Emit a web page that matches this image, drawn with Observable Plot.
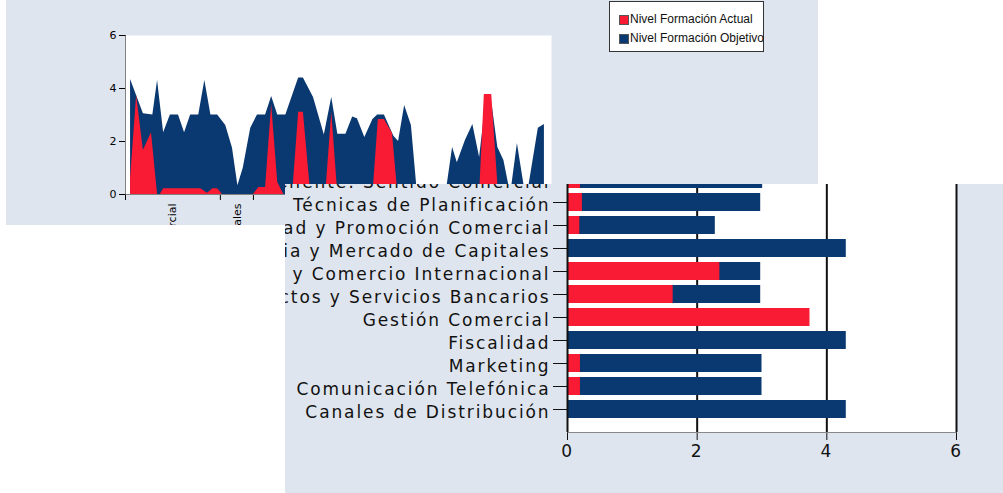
<!DOCTYPE html>
<html><head><meta charset="utf-8">
<script src="https://cdn.jsdelivr.net/npm/d3@7"></script>
<script src="https://cdn.jsdelivr.net/npm/@observablehq/plot@0.6"></script>
<style>
html,body{margin:0;padding:0;background:#fff;width:1003px;height:493px;overflow:hidden;}
#p1{position:absolute;left:6px;top:0;width:812px;height:225px;background:#dfe5ee;overflow:hidden;}
#p2{position:absolute;left:285px;top:184px;width:718px;height:309px;background:#dfe5ee;overflow:hidden;z-index:2;}
#c1{position:absolute;left:0;top:0;}
#c2{position:absolute;left:0;top:-37px;}
#legend{position:absolute;left:603px;top:1px;width:153px;height:49px;border:1px solid #333;background:#fff;font:12px "Liberation Sans",Arial,sans-serif;color:#111;}
#legend .it{position:absolute;left:10px;height:14px;line-height:14px;white-space:nowrap;}
#legend .sw{display:inline-block;width:8px;height:8px;margin-right:2px;vertical-align:-1px;}
</style></head>
<body>
<div id="p1"><div id="c1"></div>
  <div id="legend">
    <div class="it" style="top:10px"><span class="sw" id="swA"></span><span id="lgA"></span></div>
    <div class="it" style="top:29px"><span class="sw" id="swO"></span><span id="lgO"></span></div>
  </div>
</div>
<div id="p2"><div id="c2"></div></div>
<script>
// ---- colours / series names
const seriesNames = ["Nivel Formación Actual", "Nivel Formación Objetivo"];
const red = "#f91a33", blue = "#0a3870";

// ---- area chart (top panel): position along the category axis and level
const objetivoPos = [0,0,1.9,3.3,4.0,4.9,5.9,7.1,8.0,8.9,10.1,11.0,11.9,12.9,14.1,15.1,15.9,16.7,17.8,18.8,20.0,20.9,21.8,23.0,24.9,25.6,27.1,28.7,29.8,30.7,31.9,32.9,33.6,34.7,35.9,36.6,37.6,39.0,39.7,40.6,41.6,42.5,46.7,47.7,48.4,49.6,50.7,51.7,52.7,53.6,54.4,55.3,56.3,57.3,58.5,58.8,60.4,61.3,61.3];
const objetivoVal = [0,4.34,3.05,3.0,4.3,2.33,3.0,3.0,2.33,3.0,3.0,4.3,3.0,3.0,2.6,1.75,0.33,1.0,2.5,3.0,3.0,3.7,3.0,3.0,4.4,4.4,3.66,2.25,3.66,2.27,2.27,2.92,2.86,2.15,2.83,3.0,3.0,2.2,2.0,3.36,2.6,0,0,1.77,1.2,2.04,2.64,1.4,3.6,3.3,1.77,1.28,0,1.92,0,0,2.5,2.64,0];
const actualPos = [0,0,0.9,1.9,3.1,4.0,4.4,4.9,10.4,11.4,12.2,12.9,13.6,18.2,19.0,20.0,20.9,21.8,22.7,24.0,24.9,25.6,26.7,28.9,29.8,30.7,35.9,36.7,37.6,38.8,39.6,51.7,52.4,53.5,54.5];
const actualVal = [0,0.6,3.74,1.66,2.33,0,0,0.22,0.22,0.05,0.22,0.22,0,0,0.26,0.26,3.4,0.45,0,0,3.1,3.1,0,0,3.1,0,0,2.83,2.83,2.3,0,0,3.77,3.77,0];
const areaTicks = [-0.75, 13.3, 18.2];
const areaLabelPos = [6.2, 15.9];
const areaLabels = ["Gestión Comercial", "Canales"];

// ---- bar chart (bottom panel)
const cursos = ["Orientación al Cliente: Sentido Comercial","Técnicas de Planificación","Publicidad y Promoción Comercial","Gerencia y Mercado de Capitales","Divisas y Comercio Internacional","Productos y Servicios Bancarios","Gestión Comercial","Fiscalidad","Marketing","Comunicación Telefónica","Canales de Distribución"];
const objetivo = [3.01,2.98,2.28,4.3,2.98,2.98,3.0,4.3,3.0,3.0,4.3];
const actual = [0.2,0.23,0.19,0,2.35,1.63,3.74,0,0.2,0.2,0];
const barTicks = [0,2,4,6];

// legend
document.getElementById("swA").style.background = red;
document.getElementById("swO").style.background = blue;
document.getElementById("swA").style.outline = "1px solid #555";
document.getElementById("swO").style.outline = "1px solid #555";
document.getElementById("lgA").textContent = seriesNames[0];
document.getElementById("lgO").textContent = seriesNames[1];

const objArea = objetivoPos.map((p,i)=>({pos:p, val:objetivoVal[i]}));
const actArea = actualPos.map((p,i)=>({pos:p, val:actualVal[i]}));
const lbl = areaLabels.map((n,i)=>({pos:areaLabelPos[i], name:n}));

const chart1 = Plot.plot({
  width: 812, height: 225,
  marginLeft: 119, marginRight: 267, marginTop: 35, marginBottom: 31,
  style: {background: "transparent", fontFamily: "DejaVu Sans, sans-serif", fontSize: "11px", color: "#000", overflow: "visible"},
  x: {domain: [-0.75, 62.35], ticks: areaTicks, tickFormat: () => "", tickSize: 6, line: true, label: null},
  y: {domain: [0, 6], ticks: [0,2,4,6], tickFormat: d => String(d), tickSize: 6, tickPadding: 3, line: true, label: null},
  marks: [
    Plot.frame({fill: "white", stroke: "none"}),
    Plot.areaY(objArea, {x: "pos", y: "val", fill: blue}),
    Plot.areaY(actArea, {x: "pos", y: "val", fill: red}),
    Plot.text(lbl, {x: "pos", y: 0, text: "name", rotate: -90, textAnchor: "end", dy: 9, fontSize: 11, fill: "#000"})
  ]
});
document.getElementById("c1").appendChild(chart1);

const bars = cursos.map((c,i)=>({curso:c, obj:objetivo[i], act:actual[i]}));
const chart2 = Plot.plot({
  width: 718, height: 346,
  marginLeft: 282, marginRight: 47, marginTop: 10, marginBottom: 61,
  style: {background: "transparent", fontFamily: "DejaVu Sans, sans-serif", fontSize: "17px", color: "#111", letterSpacing: "1.9px", overflow: "visible"},
  x: {domain: [0, 6], ticks: barTicks, tickSize: 8, tickPadding: 4, line: true, label: null, tickFormat: d => String(d)},
  y: {domain: cursos, paddingInner: 0.217, paddingOuter: 0, insetTop: 11, insetBottom: 11, tickSize: 14, tickPadding: 3, label: null},
  marks: [
    Plot.frame({fill: "white", stroke: "none"}),
    Plot.ruleX([2, 4], {stroke: "#111", strokeWidth: 2}),
    Plot.barX(bars, {y: "curso", x: "obj", fill: blue}),
    Plot.barX(bars, {y: "curso", x: "act", fill: red}),
    Plot.ruleX([0, 6], {stroke: "#111", strokeWidth: 2})
  ]
});
d3.select(chart2).selectAll('[aria-label="y-axis"] text, g[aria-label="y-axis tick label"] text').attr("dy", "0.18em");
document.getElementById("c2").appendChild(chart2);
</script>
</body></html>
